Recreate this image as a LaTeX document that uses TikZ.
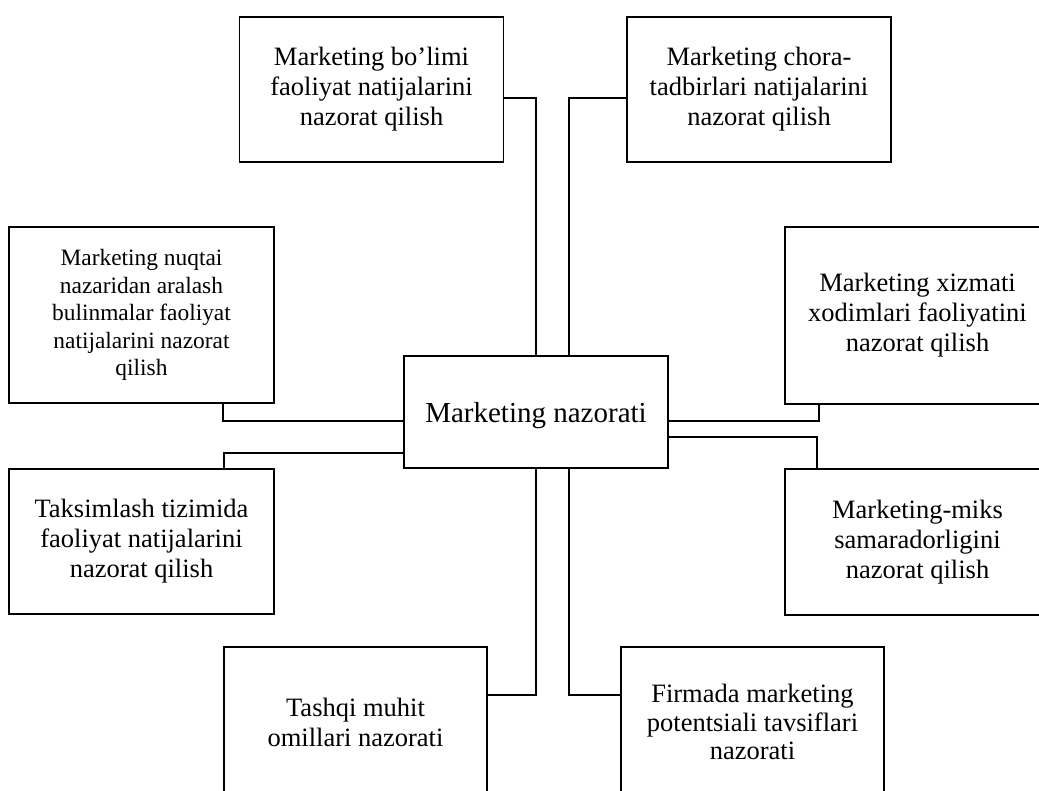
\documentclass[tikz,border=0pt]{standalone}
\usepackage{fontspec}
\setmainfont{Liberation Serif}
\begin{document}
\begin{tikzpicture}[x=1pt,y=-1pt,
  line width=1.4pt,
  box/.style={draw, inner sep=0pt, align=center, minimum width=264pt,
    font=\fontsize{26.5}{30}\selectfont},
  % a taller first line pushes the text a little below the middle
  drop/.style={execute at begin node={\rule{0pt}{#1}}},
  smallbox/.style={box, font=\fontsize{23.4}{27.5}\selectfont},
  hub/.style={box, font=\fontsize{29}{34}\selectfont}]
\useasboundingbox (0,0) rectangle (1039,790);

% hub
\node[hub, drop=27.7pt, minimum height=112pt] (c) at (536,412) {Marketing nazorati};

% upper row
\node[box, drop=25.5pt, minimum height=145pt] (tl) at (371.5,89.5)
  {Marketing bo’limi\\faoliyat natijalarini\\nazorat qilish};
\node[box, drop=25.5pt, minimum height=145pt] (tr) at (759,89.5)
  {Marketing chora-\\tadbirlari natijalarini\\nazorat qilish};

% left column
\node[smallbox, drop=23.7pt, minimum width=265pt, minimum height=176pt] (ml) at (141.5,315)
  {Marketing nuqtai\\nazaridan aralash\\bulinmalar faoliyat\\natijalarini nazorat\\qilish};
\node[box, drop=26pt, minimum width=265pt, minimum height=145pt] (bl) at (141.5,541.5)
  {Taksimlash tizimida\\faoliyat natijalarini\\nazorat qilish};

% right column
\node[box, drop=24.5pt, minimum width=265pt, minimum height=177pt] (mr) at (917.5,315.5)
  {Marketing xizmati\\xodimlari faoliyatini\\nazorat qilish};
\node[box, drop=26pt, minimum width=265pt, minimum height=146pt] (br) at (917.5,542)
  {Marketing-miks\\samaradorligini\\nazorat qilish};

% bottom row
\node[box, minimum width=263pt, minimum height=150pt] (b1) at (355.5,722)
  {Tashqi muhit\\omillari nazorati};
\node[box, font=\fontsize{26.5}{28.5}\selectfont, minimum width=263pt,
  minimum height=150pt] (b2) at (752.5,722)
  {Firmada marketing\\potentsiali tavsiflari\\nazorati};

% connectors
\draw ([yshift=-8.5pt]tl.east) -| (c.north);
\draw ([yshift=-8.5pt]tr.west) -| ([xshift=33pt]c.north);
\draw ([yshift=-9pt]c.west) -| ([xshift=81.5pt]ml.south);
\draw ([yshift=-41pt]c.west) -| ([xshift=82.5pt]bl.north);
\draw ([yshift=-9pt]c.east) -| ([xshift=-98.5pt]mr.south);
\draw ([yshift=-25pt]c.east) -| ([xshift=-100.5pt]br.north);
\draw (c.south) |- ([yshift=27pt]b1.east);
\draw ([xshift=33pt]c.south) |- ([yshift=27pt]b2.west);
\end{tikzpicture}
\end{document}
